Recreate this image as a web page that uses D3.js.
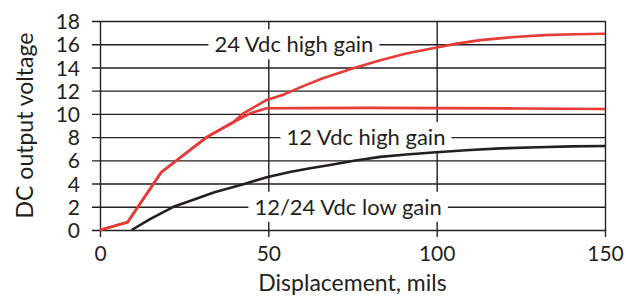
<!DOCTYPE html>
<html>
<head>
<meta charset="utf-8">
<script src="https://cdn.jsdelivr.net/npm/d3@7"></script>
<style>
  body { margin: 0; background: #fff; }
  text { font-family: "Lato", "Noto Sans", sans-serif; fill: #231f20; }
</style>
</head>
<body>
<div id="chart"></div>
<script>
// values (x = mils, y = volts)
var xTicks = [0, 50, 100, 150];
var yTicks = [0, 2, 4, 6, 8, 10, 12, 14, 16, 18];

var hi24X = [0, 8.2, 18.2, 22.8, 31.7, 39.6, 42.6, 49.5, 54.4, 60, 66, 75, 83, 91, 99.6, 106, 113, 122, 132, 141, 150];
var hi24Y = [0, 0.66, 4.97, 6.0, 8.0, 9.28, 10.05, 11.2, 11.65, 12.35, 13.05, 13.9, 14.6, 15.2, 15.7, 16.05, 16.35, 16.6, 16.78, 16.86, 16.9];

var hi12X = [0, 8.2, 18.2, 22.8, 31.7, 39.6, 44.6, 49.5, 60, 80, 100, 125, 150];
var hi12Y = [0, 0.66, 4.97, 6.0, 8.0, 9.28, 10.05, 10.48, 10.5, 10.52, 10.5, 10.47, 10.42];

var loX = [9.4, 15, 21.8, 26.7, 34, 42.6, 49.5, 56.4, 62, 68.3, 75, 83.2, 91, 99.8, 109.9, 119, 130, 140, 150];
var loY = [0, 0.95, 2.0, 2.5, 3.25, 3.94, 4.55, 5.0, 5.3, 5.6, 5.95, 6.3, 6.5, 6.69, 6.89, 7.03, 7.13, 7.2, 7.23];

var labels = ['24 Vdc high gain', '12 Vdc high gain', '12/24 Vdc low gain'];
var labelPos = [[57.6, 16], [79, 8], [73.7, 2]]; // [x mils centre, y volts]

var width = 626, height = 302;
var margin = { top: 21, right: 21, bottom: 72, left: 100 };

var svg = d3.select('#chart').append('svg')
    .attr('width', width)
    .attr('height', height);

var x = d3.scaleLinear().domain([0, 150]).range([margin.left, width - margin.right]);
var y = d3.scaleLinear().domain([0, 18]).range([height - margin.bottom, margin.top]);

var ink = '#231f20';
var red = '#e63b36';

// horizontal grid with ticks on the left
var hAxis = d3.axisLeft(y)
    .tickValues(yTicks)
    .tickFormat(d3.format('d'));
var hGuide = svg.append('g')
    .attr('transform', 'translate(' + x(150) + ',0)');
hAxis(hGuide);
hGuide.select('.domain').remove();
hGuide.selectAll('line')
    .attr('x1', -(x(150) - x(0)) - 8).attr('x2', 0)
    .style('stroke', ink).style('stroke-width', 1.4);
hGuide.selectAll('text')
    .attr('x', -(x(150) - x(0)) - 20)
    .attr('dy', '0.36em')
    .style('font-size', '21px');

// vertical grid with ticks below
var vAxis = d3.axisBottom(x)
    .tickValues(xTicks)
    .tickFormat(d3.format('d'));
var vGuide = svg.append('g')
    .attr('transform', 'translate(0,' + y(0) + ')');
vAxis(vGuide);
vGuide.select('.domain').remove();
vGuide.selectAll('line')
    .attr('y1', -(y(0) - y(18))).attr('y2', 7)
    .style('stroke', ink).style('stroke-width', 1.4);
vGuide.selectAll('text')
    .attr('y', 16)
    .attr('dy', '0.71em')
    .style('font-size', '21px');

// curve labels on white boxes that cut the grid
var lab = svg.append('g').selectAll('g').data(labels)
    .enter().append('g');
var boxes = lab.append('rect').style('fill', '#fff');
var texts = lab.append('text')
    .attr('x', function(d, i) { return x(labelPos[i][0]); })
    .attr('y', function(d, i) { return y(labelPos[i][1]); })
    .attr('dy', '0.36em')
    .attr('text-anchor', 'middle')
    .style('font-size', '22px')
    .text(function(d) { return d; });
texts.each(function(d, i) {
    var b = this.getBBox();
    d3.select(boxes.nodes()[i])
        .attr('x', b.x - 6)
        .attr('width', b.width + 12)
        .attr('y', y(labelPos[i][1]) - 15)
        .attr('height', 30);
});

// curves
var line = d3.line()
    .x(function(d) { return x(d[0]); })
    .y(function(d) { return y(d[1]); });

var series = [
    { xs: hi12X, ys: hi12Y, color: red },
    { xs: hi24X, ys: hi24Y, color: red },
    { xs: loX, ys: loY, color: ink }
];
svg.append('g').selectAll('path').data(series)
    .enter().append('path')
    .attr('d', function(s) { return line(d3.zip(s.xs, s.ys)); })
    .style('fill', 'none')
    .style('stroke', function(s) { return s.color; })
    .style('stroke-width', 2.6)
    .style('stroke-linejoin', 'round');

// axis titles
svg.append('text')
    .attr('transform', 'translate(33,' + y(9) + ') rotate(-90)')
    .attr('text-anchor', 'middle')
    .style('font-size', '23px')
    .text('DC output voltage');

svg.append('text')
    .attr('x', x(75))
    .attr('y', 291)
    .attr('text-anchor', 'middle')
    .style('font-size', '23px')
    .text('Displacement, mils');
</script>
</body>
</html>
